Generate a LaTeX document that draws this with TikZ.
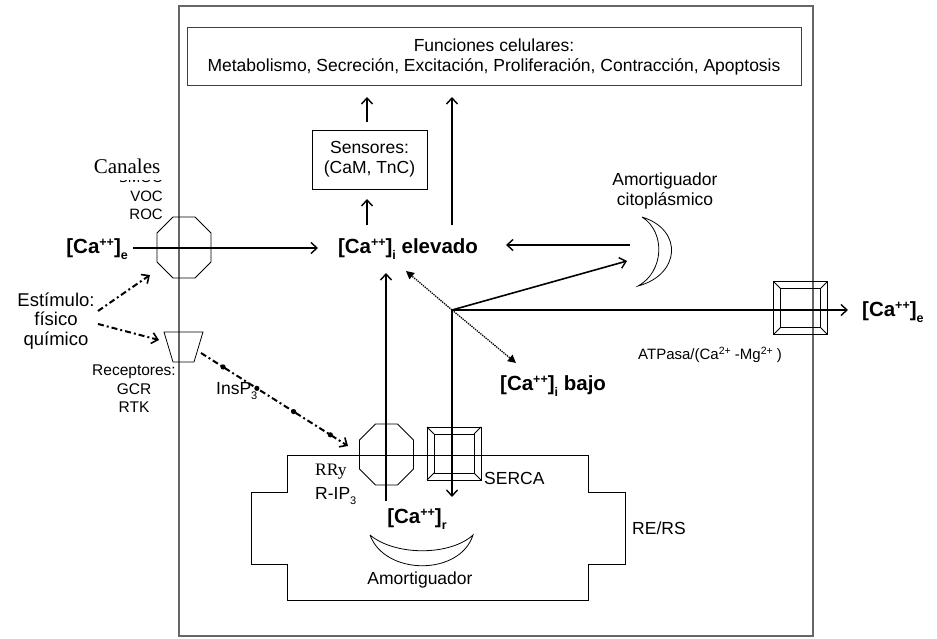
\documentclass[tikz,border=0pt]{standalone}
\usepackage{fontspec}
\setmainfont{Liberation Sans}
\newfontfamily\seriffont{Liberation Serif}
\usetikzlibrary{arrows.meta,calc}
\newcommand\supx[1]{\raisebox{0.65ex}{\fontsize{12.5}{12.5}\selectfont #1}}
\newcommand\subx[1]{\raisebox{-0.5ex}{\fontsize{12.5}{12.5}\selectfont #1}}
\newcommand\supy[1]{\raisebox{0.7ex}{\fontsize{10.5}{10.5}\selectfont #1}}
\newcommand\suby[1]{\raisebox{-0.5ex}{\fontsize{11}{11}\selectfont #1}}
\begin{document}
\begin{tikzpicture}[x=1pt,y=-1pt,
  thinline/.style={line width=0.8pt},
  arr/.style={line width=1.6pt,-{Straight Barb[length=6pt,width=11pt,line width=1.4pt]}},
  dotarr/.style={line width=1.3pt,densely dotted,-{Triangle[length=8pt,width=8pt]}},
  dasharr/.style={line width=2pt,dash pattern=on 6pt off 3pt on 2pt off 3pt,-{Straight Barb[length=6pt,width=11pt,line width=1.6pt]}},
  lbl/.style={font=\fontsize{17.5}{20}\selectfont,inner sep=0pt,align=center},
  slbl/.style={font=\fontsize{15}{17.5}\selectfont,inner sep=0pt,align=center},
  blbl/.style={font=\fontsize{20.5}{23}\selectfont\bfseries,inner sep=0pt},
  octa/.pic={\draw[thinline] (-11,-30.5) -- (11,-30.5) -- (27,-14.5) -- (27,14.5) -- (11,30.5) -- (-11,30.5) -- (-27,14.5) -- (-27,-14.5) -- cycle;},
  pump/.pic={\draw[thinline] (-27,-26.5) rectangle (27,26.5);
             \draw[thinline] (-20,-19.5) rectangle (20,19.5);
             \draw[thinline] (-27,-26.5) -- (-20,-19.5) (27,-26.5) -- (20,-19.5) (-27,26.5) -- (-20,19.5) (27,26.5) -- (20,19.5);}
]
\useasboundingbox (0,0) rectangle (937,639);
\fill[white] (0,0) rectangle (937,639);
% cell membrane
\draw[black!60,line width=1.2pt] (179,6) rectangle (813,636);
% functions box
\node[draw=black!75,line width=1pt,minimum width=614pt,minimum height=58pt,lbl] (fun) at (494,57)
  {Funciones celulares:\\Metabolismo, Secreción, Excitación, Proliferación, Contracción, Apoptosis};
% sensors box
\node[draw,thinline,minimum width=115pt,minimum height=59pt,lbl] (sens) at (369.5,159.5)
  {Sensores:\\(CaM, TnC)};
% central labels
\node[blbl] (elev) at (408,249) {[Ca\supx{++}]\subx{i} elevado};
\node[blbl,anchor=west] (bajo) at (500,386) {[Ca\supx{++}]\subx{i} bajo};
\node[blbl,anchor=east] (cae) at (128,249) {[Ca\supx{++}]\subx{e}};
\node[blbl,anchor=west] (caeo) at (862,312) {[Ca\supx{++}]\subx{e}};
\node[blbl] (car) at (417,519) {[Ca\supx{++}]\subx{r}};
% channel labels
\begin{scope}
  \clip (120,181) rectangle (170,185);
  \node[slbl,anchor=east] (smoc) at (163,177) {SMOC};
\end{scope}
\node[font=\seriffont\fontsize{21}{24}\selectfont,inner sep=0pt] (can) at (127,166) {Canales};
\node[slbl,anchor=east] (voc) at (163,196) {VOC};
\node[slbl,anchor=east] (roc) at (163,214) {ROC};
\node[lbl,font=\fontsize{18.5}{19.5}\selectfont] (estim) at (56,321) {Estímulo:\\físico\\químico};
\node[slbl,font=\fontsize{15.5}{18.5}\selectfont] (recep) at (134,389) {Receptores:\\GCR\\RTK};
\node[lbl,anchor=west] (insp) at (216,391) {InsP\suby{3}};
\node[lbl,anchor=west,font=\seriffont\fontsize{17.5}{20}\selectfont] (rry) at (315,472) {RRy};
\node[lbl,anchor=west] (rip) at (315,496) {R-IP\suby{3}};
\node[lbl,anchor=west] (serca) at (484,478) {SERCA};
\node[lbl] (amort) at (420,580) {Amortiguador};
\node[lbl,anchor=west] (rers) at (632,528) {RE/RS};
\node[lbl] (amcit) at (665,191) {Amortiguador\\citoplásmico};
\node[slbl,anchor=west] (atp) at (638,355) {ATPasa/(Ca\supy{2+} -Mg\supy{2+} )};
% shapes
\pic at (184,247.5) {octa};
\pic at (386.5,454.5) {octa};
\pic at (454,453.5) {pump};
\pic at (800.5,308) {pump};
% receptor trapezoid
\draw[thinline] (164,332) -- (203,332) -- (194,362) -- (173,362) -- cycle;
% ER
\draw[thinline] (287,455) -- (588,455) -- (588,492) -- (625,492) -- (625,564) -- (588,564) -- (588,600)
  -- (287,600) -- (287,564) -- (251,564) -- (251,492) -- (287,492) -- cycle;
% crescent (cytoplasmic buffer)
\draw[thinline] (642,217) .. controls (684,230) and (680,275) .. (638,286)
  .. controls (664,272) and (666,232) .. (642,217);
% bowl (ER buffer)
\draw[thinline] (370,535) .. controls (385,576) and (460,576) .. (473,535)
  .. controls (450,556) and (395,556) .. (370,535);
% coordinates
\coordinate (s1a) at (367,122); \coordinate (s1b) at (367,97);
\coordinate (s2a) at (367,225); \coordinate (s2b) at (367,199);
\coordinate (la) at (452,225); \coordinate (lb) at (452,97);
\coordinate (ea) at (133,248); \coordinate (eb) at (318,248);
\coordinate (ca) at (630,245); \coordinate (cb) at (506,245);
\coordinate (J) at (452,310);
\coordinate (jc) at (627,261);
\coordinate (jo) at (848,310);
\coordinate (jd) at (452,497);
\coordinate (je) at (406,271);
\coordinate (jb) at (516,363);
\coordinate (ra) at (386,501); \coordinate (rb) at (386,273);
\coordinate (st1) at (98,311); \coordinate (st1b) at (150,275);
\coordinate (st2) at (98,324); \coordinate (st2b) at (159,340);
\coordinate (ip1) at (201,353); \coordinate (ip2) at (348,446);
% arrows
\draw[arr] (s1a) -- (s1b);
\draw[arr] (s2a) -- (s2b);
\draw[arr] (la) -- (lb);
\draw[arr] (ea) -- (eb);
\draw[arr] (ca) -- (cb);
\draw[arr] (J) -- (jc);
\draw[arr] (J) -- (jo);
\draw[arr] (J) -- (jd);
\draw[dotarr] (J) -- (je);
\draw[dotarr] (J) -- (jb);
\draw[arr] (ra) -- (rb);
\draw[dasharr] (st1) -- (st1b);
\draw[dasharr] (st2) -- (st2b);
\draw[dasharr] (ip1) -- (ip2);
\foreach \t in {0.15,0.38,0.63,0.88} \fill ($(ip1)!\t!(ip2)$) circle (2.6pt);
\end{tikzpicture}
\end{document}
